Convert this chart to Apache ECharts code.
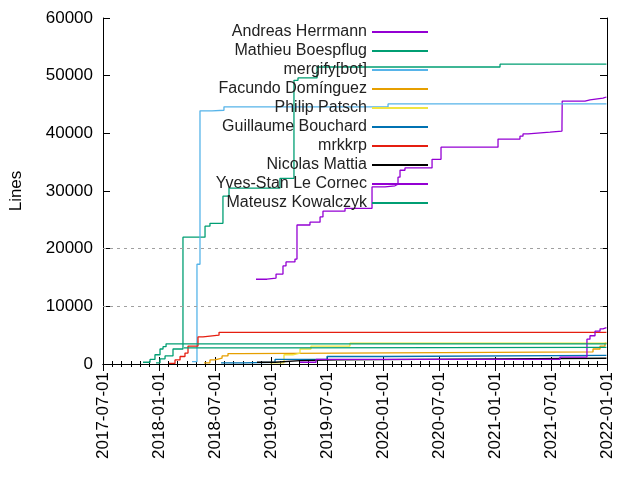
<!DOCTYPE html>
<html>
<head>
<meta charset="utf-8">
<script src="https://cdn.jsdelivr.net/npm/echarts@6/dist/echarts.min.js"></script>
<style>html,body{margin:0;background:#fff}#chart{width:640px;height:480px}</style>
</head>
<body>
<div id="chart"></div>
<script>
// x values are decimal years, y values are lines of code
const andreasX = [2018.866, 2018.964, 2019.045, 2019.107, 2019.134, 2019.214, 2019.232, 2019.348, 2019.438, 2019.464, 2019.661, 2019.902, 2020.018, 2020.107, 2020.134, 2020.152, 2020.196, 2020.438, 2020.518, 2021.027, 2021.223, 2021.25, 2021.295, 2021.491, 2021.598, 2021.6, 2021.804, 2021.848, 2021.964, 2021.995];
const andreasY = [14700, 14900, 15600, 17000, 17700, 18200, 24100, 24600, 25500, 26500, 27000, 30700, 30900, 31200, 32400, 33600, 34000, 35500, 37600, 39000, 39500, 39900, 40200, 40400, 41100, 45600, 45800, 46100, 46300, 46300];
const mathieuX = [2017.973, 2018.009, 2018.054, 2018.125, 2018.214, 2018.411, 2018.455, 2018.571, 2018.625, 2019.08, 2019.205, 2019.241, 2019.411, 2021.045, 2021.995];
const mathieuY = [200, 900, 1400, 2600, 22000, 23900, 24400, 29100, 30500, 32200, 49200, 49600, 51500, 52000, 52000];
const mergifyX = [2018.295, 2018.339, 2018.366, 2018.473, 2018.58, 2020.045, 2021.995];
const mergifyY = [400, 17300, 43900, 44000, 44600, 45100, 45100];
const facundoX = [2018.402, 2018.455, 2018.5, 2018.563, 2018.616, 2018.723, 2021.875, 2021.938, 2021.982, 2021.995];
const facundoY = [200, 700, 1000, 1400, 1800, 2100, 2600, 3100, 3600, 3600];
const philipX = [2018.991, 2019.116, 2019.196, 2019.259, 2019.357, 2019.705, 2021.995];
const philipY = [200, 1600, 1900, 2600, 3100, 3600, 3600];
const guillaumeX = [2018.554, 2018.75, 2019.036, 2019.5, 2020.009, 2021.995];
const guillaumeY = [200, 300, 800, 1300, 1500, 1500];
const mrkkrpX = [2018.089, 2018.143, 2018.188, 2018.232, 2018.259, 2018.348, 2018.393, 2018.536, 2021.995];
const mrkkrpY = [100, 700, 1300, 1900, 3100, 4700, 5000, 5500, 5600];
const nicolasX = [2018.875, 2019.036, 2019.259, 2019.598, 2021.045, 2021.995];
const nicolasY = [300, 600, 700, 900, 1000, 1000];
const yvesX = [2019.259, 2019.402, 2021.58, 2021.821, 2021.848, 2021.893, 2021.938, 2021.964, 2021.995];
const yvesY = [300, 800, 1200, 4300, 4900, 5700, 6100, 6300, 6300];
const mateuszX = [2017.857, 2017.92, 2017.964, 2018.009, 2018.036, 2018.063, 2021.995];
const mateuszY = [300, 800, 1600, 2600, 3000, 3500, 3500];
const otherX = [2018.223, 2019.018, 2021.995];
const otherY = [2800, 2900, 2900];
const yTicks = [0, 10000, 20000, 30000, 40000, 50000, 60000];

const pairs = (xs, ys) => xs.map((x, i) => [x, ys[i]]);
const list = [
  ['Andreas Herrmann', '#9400d3', andreasX, andreasY],
  ['Mathieu Boespflug', '#009e73', mathieuX, mathieuY],
  ['mergify[bot]', '#56b4e9', mergifyX, mergifyY],
  ['Facundo Domínguez', '#e69f00', facundoX, facundoY],
  ['Philip Patsch', '#f0e442', philipX, philipY],
  ['Guillaume Bouchard', '#0072b2', guillaumeX, guillaumeY],
  ['mrkkrp', '#e51e10', mrkkrpX, mrkkrpY],
  ['Nicolas Mattia', '#000000', nicolasX, nicolasY],
  ['Yves-Stan Le Cornec', '#9400d3', yvesX, yvesY],
  ['Mateusz Kowalczyk', '#009e73', mateuszX, mateuszY],
  ['', '#009e73', otherX, otherY]
];
const series = list.map(([name, color, xs, ys]) => ({
  name: name, type: 'line', step: 'end', showSymbol: false,
  data: pairs(xs, ys), lineStyle: {width: 1.3, color: color}, itemStyle: {color: color}
}));
series[0].markLine = {
  silent: true, symbol: 'none', label: {show: false},
  lineStyle: {color: '#a0a0a0', type: [3, 4], width: 1},
  data: [{yAxis: yTicks[1]}, {yAxis: yTicks[2]}]
};

const font = 'Liberation Sans, Arial, sans-serif';
const chart = echarts.init(document.getElementById('chart'));
chart.setOption({
  animation: false,
  textStyle: {fontFamily: font},
  grid: {left: 103, right: 33, top: 18, bottom: 116},
  legend: {
    data: list.slice(0, 10).map(l => l[0]),
    orient: 'vertical', right: 207, top: 19, align: 'right',
    itemWidth: 56, itemHeight: 2, itemGap: 3, icon: 'rect',
    textStyle: {fontSize: 16, color: '#222', fontFamily: font}
  },
  xAxis: [{
    type: 'value', min: 2017.5, max: 2022, interval: 0.5,
    axisLine: {lineStyle: {color: '#000'}},
    axisTick: {inside: true, length: 7, lineStyle: {color: '#000'}},
    minorTick: {show: true, splitNumber: 6, length: 3, lineStyle: {color: '#000'}},
    splitLine: {show: false},
    axisLabel: {
      rotate: 90, fontSize: 17, color: '#000', margin: 8,
      formatter: v => Math.floor(v) + (v % 1 ? '-07-01' : '-01-01')
    }
  }, {
    type: 'value', position: 'top', min: 2017.5, max: 2022, interval: 0.5,
    axisLine: {lineStyle: {color: '#000'}}, axisLabel: {show: false},
    axisTick: {inside: true, length: 7, lineStyle: {color: '#000'}},
    minorTick: {show: true, splitNumber: 6, length: 3, lineStyle: {color: '#000'}},
    splitLine: {show: false}
  }],
  yAxis: [{
    type: 'value', min: 0, max: 60000, interval: 10000,
    name: 'Lines', nameLocation: 'middle', nameGap: 78, nameRotate: 90,
    nameTextStyle: {fontSize: 17, color: '#000'},
    axisLine: {show: true, lineStyle: {color: '#000'}},
    axisTick: {show: true, inside: true, length: 7, lineStyle: {color: '#000'}},
    splitLine: {show: false},
    axisLabel: {fontSize: 17, color: '#000', margin: 10, formatter: v => String(v)}
  }, {
    type: 'value', position: 'right', min: 0, max: 60000, interval: 10000,
    axisLine: {show: true, lineStyle: {color: '#000'}},
    axisTick: {show: true, inside: true, length: 7, lineStyle: {color: '#000'}},
    splitLine: {show: false}, axisLabel: {show: false}
  }],
  series: series
});
</script>
</body>
</html>
